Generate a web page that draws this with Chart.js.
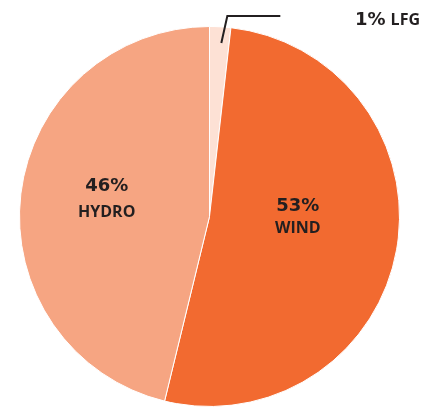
<!DOCTYPE html>
<html>
<head>
<meta charset="utf-8">
<script src="https://cdn.jsdelivr.net/npm/chart.js@4"></script>
<style>
  html, body { margin: 0; padding: 0; background: #ffffff; }
  canvas { display: block; }
</style>
</head>
<body>
<canvas id="c" width="421" height="408"></canvas>
<script>
// ---- data ----
const categories = ["LFG", "WIND", "HYDRO"];
const sliceValues = [1.8, 52, 46.2];          // slice sizes as drawn
const percentLabels = ["1%", "53%", "46%"];    // printed labels

// ---- styles ----
const sliceColors = ["#fde1d5", "#f26a30", "#f6a582"];
const textColor = "#231f20";

// label anchors (fraction of radius from pie centre) for in-slice labels
const inLabelPos = {
  1: { dx: 0.4645, dy: -0.029, gap: 22 },
  2: { dx: -0.541, dy: -0.134, gap: 26 }
};

const labelPlugin = {
  id: "sliceLabels",
  afterDraw(chart) {
    const ctx = chart.ctx;
    const arcs = chart.getDatasetMeta(0).data;
    ctx.save();
    ctx.fillStyle = textColor;
    ctx.textBaseline = "alphabetic";
    Object.keys(inLabelPos).forEach(k => {
      const i = +k;
      const a = arcs[i];
      const p = inLabelPos[i];
      const x = a.x + p.dx * a.outerRadius;
      const y = a.y + p.dy * a.outerRadius;
      ctx.textAlign = "center";
      ctx.font = "bold 18px 'DejaVu Sans'";
      ctx.fillText(percentLabels[i], x, y);
      ctx.font = "bold 16px 'Open Sans'";
      ctx.fillText(categories[i], x, y + p.gap);
    });

    // LFG leader line + outside label
    const a0 = arcs[0];
    const mid = (a0.startAngle + a0.endAngle) / 2;
    const sx = a0.x + Math.cos(mid) * a0.outerRadius * 0.915 + 2;
    const sy = a0.y + Math.sin(mid) * a0.outerRadius * 0.915;
    const ex = sx + 6;
    const ey = a0.y - a0.outerRadius - 10.5;
    ctx.strokeStyle = "#231f20";
    ctx.lineWidth = 2;
    ctx.beginPath();
    ctx.moveTo(sx, sy);
    ctx.lineTo(ex, ey);
    ctx.lineTo(ex + 53, ey);
    ctx.stroke();

    const right = chart.width - 1;
    ctx.textAlign = "right";
    ctx.font = "bold 16px 'Open Sans'";
    const nameW = ctx.measureText(categories[0]).width;
    ctx.fillText(categories[0], right, 25);
    ctx.font = "bold 18px 'DejaVu Sans'";
    ctx.fillText(percentLabels[0], right - nameW - 5, 25);
    ctx.restore();
  }
};

new Chart(document.getElementById("c"), {
  type: "pie",
  data: {
    labels: categories,
    datasets: [{
      data: sliceValues,
      backgroundColor: sliceColors,
      borderColor: "#ffffff",
      borderWidth: 1
    }]
  },
  options: {
    responsive: false,
    animation: false,
    layout: { padding: { left: 19, right: 21, top: 26, bottom: 1 } },
    plugins: { legend: { display: false }, tooltip: { enabled: false } }
  },
  plugins: [labelPlugin]
});
</script>
</body>
</html>
